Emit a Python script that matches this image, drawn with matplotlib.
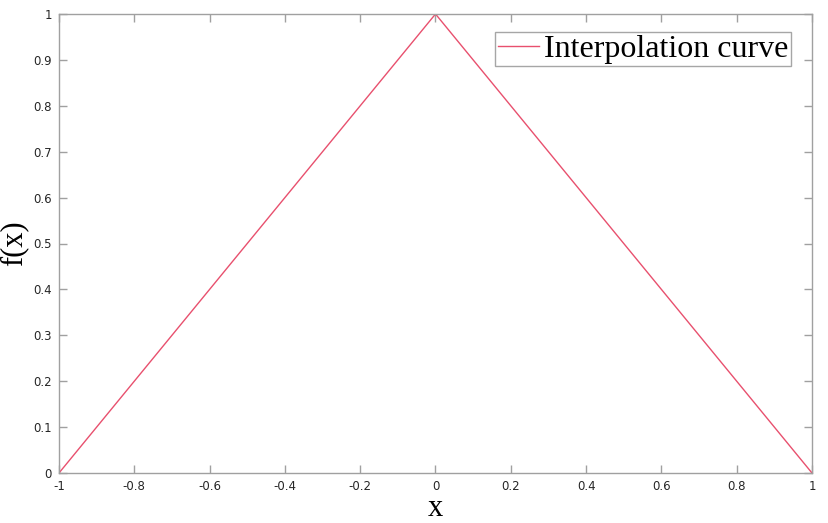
import matplotlib
matplotlib.use("Agg")
import matplotlib.pyplot as plt
import numpy as np

x_vals = [-1.0, 0.0, 1.0]
f_vals = [0.0, 1.0, 0.0]
xticks = [-1, -0.8, -0.6, -0.4, -0.2, 0, 0.2, 0.4, 0.6, 0.8, 1]
xtick_labels = ["-1", "-0.8", "-0.6", "-0.4", "-0.2", "0", "0.2", "0.4", "0.6", "0.8", "1"]
yticks = [0, 0.1, 0.2, 0.3, 0.4, 0.5, 0.6, 0.7, 0.8, 0.9, 1]
ytick_labels = ["0", "0.1", "0.2", "0.3", "0.4", "0.5", "0.6", "0.7", "0.8", "0.9", "1"]

fig = plt.figure(figsize=(8.29, 5.23), dpi=100)
ax = fig.add_axes([59/829, 1-473/523, (812-59)/829, (473-14)/523])
ax.plot(x_vals, f_vals, color="#e8506e", lw=1.0, label="Interpolation curve")
ax.set_xlim(-1, 1)
ax.set_ylim(0, 1)
ax.set_xticks(xticks)
ax.set_xticklabels(xtick_labels)
ax.set_yticks(yticks)
ax.set_yticklabels(ytick_labels)
for s in ax.spines.values():
    s.set_color("#a0a0a0")
    s.set_linewidth(1.0)
ax.tick_params(direction="in", length=6, width=1, color="#a0a0a0", top=True, right=True,
               labelsize=8.5, labelcolor="#262626", pad=5)
ax.set_xlabel("x", family="Liberation Serif", fontsize=22)
ax.set_ylabel("f(x)", family="Liberation Serif", fontsize=22)
ax.xaxis.set_label_coords(0.5, -0.045)
ax.yaxis.set_label_coords(-0.041, 0.5)
leg = ax.legend(loc="upper right", bbox_to_anchor=(1 - 21/753, 1 - 18/459),
                prop={"family": "Liberation Serif", "size": 23},
                frameon=True, fancybox=False, handlelength=1.3, handletextpad=0.15,
                borderpad=0.08, borderaxespad=0.0)
leg.get_frame().set_edgecolor("#909090")
leg.get_frame().set_linewidth(1.0)
fig.savefig("out.png", dpi=100)
